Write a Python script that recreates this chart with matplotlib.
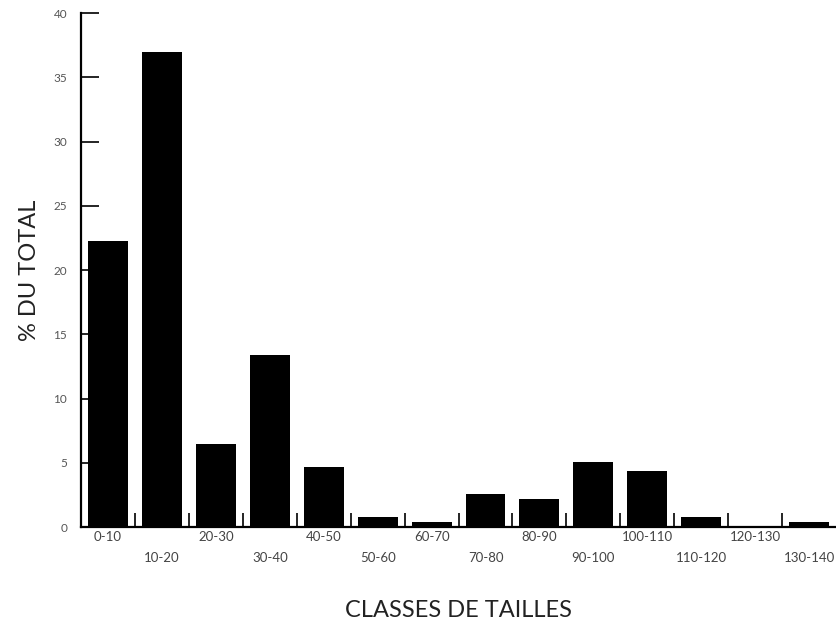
import numpy as np
import matplotlib
matplotlib.use('Agg')
import matplotlib.pyplot as plt

plt.rcParams['font.family'] = ['Lato', 'DejaVu Sans']

# classes de tailles et pourcentages
classes = ['0-10', '10-20', '20-30', '30-40', '40-50', '50-60', '60-70',
           '70-80', '80-90', '90-100', '100-110', '110-120', '120-130', '130-140']
pct = [22.3, 37.0, 6.5, 13.4, 4.7, 0.8, 0.4, 2.6, 2.2, 5.1, 4.4, 0.8, 0.0, 0.4]
yticks = [0, 5, 10, 15, 20, 25, 30, 35, 40]

fig = plt.figure(figsize=(8.36, 6.26), dpi=100)
ax = fig.add_axes([0.097, 0.158, 0.903, 0.821])

x = np.arange(len(classes))
ax.bar(x, pct, width=0.74, color='black')

ax.set_xlim(-0.5, len(classes) - 0.5)
ax.set_ylim(0, 40)

for s in ['top', 'right']:
    ax.spines[s].set_visible(False)
ax.spines['left'].set_linewidth(1.6)
ax.spines['bottom'].set_linewidth(1.6)

# labels centres sur les barres, sur deux lignes alternees
labs = [c if i % 2 == 0 else '\n' + c for i, c in enumerate(classes)]
ax.set_xticks(x)
ax.set_xticklabels(labs, fontsize=9.5, color='#444444', linespacing=1.9)
ax.tick_params(axis='x', which='major', length=0, pad=3)

# petits traits aux limites des classes
ax.set_xticks(x[:-1] + 0.5, minor=True)
ax.tick_params(axis='x', which='minor', direction='in', length=10, width=1.2)

ax.set_yticks(yticks)
ax.set_yticklabels([str(v) for v in yticks], fontsize=8.5, color='#555555')
ax.tick_params(axis='y', direction='in', length=13, width=1.2, pad=10)

ax.set_xlabel('CLASSES DE TAILLES', fontsize=17, color='#222222', labelpad=26)
ax.set_ylabel('% DU TOTAL', fontsize=17, color='#222222', labelpad=10)

fig.savefig('out.png', dpi=100)
